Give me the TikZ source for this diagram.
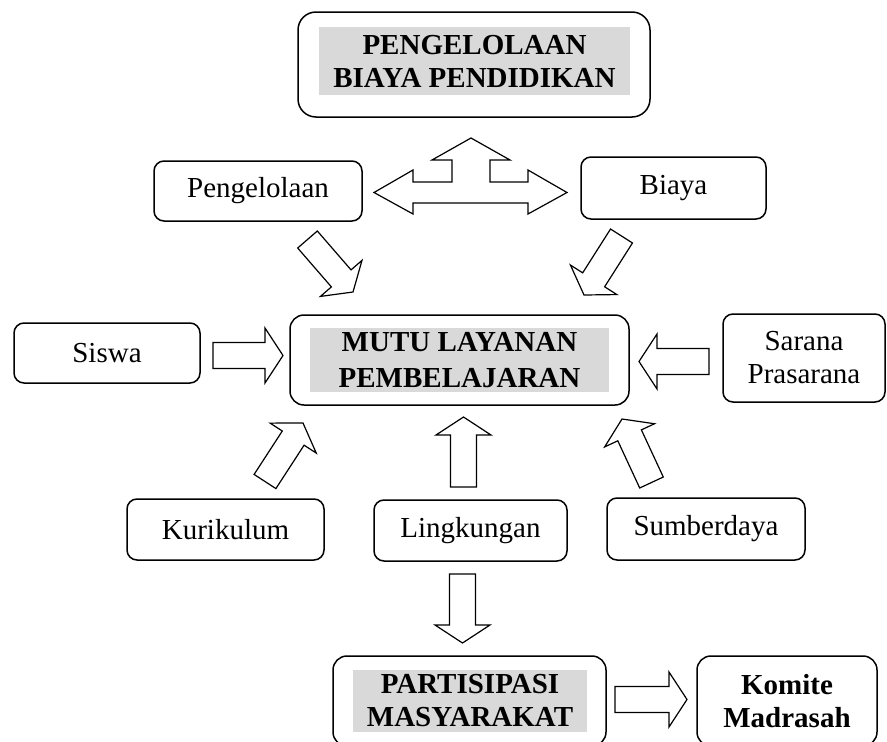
\documentclass[tikz,border=0pt]{standalone}
\usepackage{fontspec}
\setmainfont{Liberation Serif}
\usetikzlibrary{calc}
\definecolor{shadegray}{HTML}{D9D9D9}
\tikzset{
	box/.style={draw, line width=1.5pt, rounded corners=10pt, align=center, inner sep=0pt, font=\fontsize{29}{33}\selectfont},
	bigbox/.style={box, rounded corners=18pt},
	boldbox/.style={box, font=\bfseries\fontsize{29}{33}\selectfont},
	shadetext/.style={fill=shadegray, align=center, inner sep=0pt, font=\bfseries\fontsize{29}{33}\selectfont},
	blockline/.style={draw, fill=white, line width=1.2pt, line join=miter}
}
% hollow block arrow from tail #1 to tip #2
\newcommand{\fatarrow}[2]{%
	\coordinate (fa-base) at ($(#2)!18pt!(#1)$);
	\path[blockline] ($(#1)!13pt!90:(#2)$) -- ($(fa-base)!13pt!-90:(#1)$) -- ($(fa-base)!27.5pt!-90:(#1)$) -- (#2)
		-- ($(fa-base)!27.5pt!90:(#1)$) -- ($(fa-base)!13pt!90:(#1)$) -- ($(#1)!13pt!-90:(#2)$) -- cycle;}
\begin{document}
\begin{tikzpicture}[x=1pt,y=-1pt]
	\path[use as bounding box, fill=white] (0,0) rectangle (887,742);
	% Top box
	\node[bigbox, minimum width=352pt, minimum height=105pt] (biayapend) at (474,64.5) {};
	\node[shadetext, minimum width=311pt, minimum height=68pt] (biayapendtext) at (474.5,61) {PENGELOLAAN\\BIAYA PENDIDIKAN};
	% Second row
	\node[box, minimum width=208pt, minimum height=60pt] (pengelolaan) at (258,191) {Pengelolaan};
	\node[box, minimum width=185pt, minimum height=62pt] (biaya) at (673.5,188) {Biaya};
	% Middle row
	\node[box, minimum width=186pt, minimum height=60pt] (siswa) at (107,353) {Siswa};
	\node[box, rounded corners=14pt, minimum width=339pt, minimum height=90pt] (mutu) at (459.5,360) {};
	\node[shadetext, font=\bfseries\fontsize{29}{36}\selectfont, minimum width=299pt, minimum height=64pt] (mututext) at (459.5,360) {MUTU LAYANAN\\PEMBELAJARAN};
	\node[box, minimum width=162pt, minimum height=88pt] (sarana) at (804,358) {Sarana\\Prasarana};
	% Lower row
	\node[box, minimum width=197pt, minimum height=61pt] (kurikulum) at (225.5,529.5) {Kurikulum};
	\node[box, minimum width=193pt, minimum height=61pt] (lingkungan) at (470.5,530.5) {Lingkungan};
	\node[box, minimum width=198pt, minimum height=62pt] (sumberdaya) at (706,529) {Sumberdaya};
	% Bottom row
	\node[box, rounded corners=14pt, minimum width=273pt, minimum height=90pt] (partisipasi) at (469.5,701) {};
	\node[shadetext, minimum width=234pt, minimum height=62pt] (partisipasitext) at (470,701) {PARTISIPASI\\MASYARAKAT};
	\node[boldbox, rounded corners=14pt, minimum width=180pt, minimum height=90pt] (komite) at (787,701) {Komite\\Madrasah};
	% Three-way arrow under the top box
	\path[blockline] (471,138) -- (510,160) -- (490,160) -- (490,182) -- (528,182) -- (528,170) -- (567,192.5)
		-- (528,214) -- (528,203) -- (413,203) -- (413,214) -- (374,192.5) -- (413,170) -- (413,182)
		-- (452,182) -- (452,160) -- (432,160) -- cycle;
	% Arrows into the middle box
	\fatarrow{307.5,239.5}{353,292}
	\fatarrow{621.5,236}{584,295}
	\fatarrow{213,355.5}{283,355.5}
	\fatarrow{709,361.5}{639,361.5}
	\fatarrow{265,481.5}{303,423}
	\fatarrow{463.5,487}{463.5,417}
	\fatarrow{651.5,482.5}{622,419}
	% Arrows to the bottom row
	\fatarrow{462.5,574}{462.5,643}
	\fatarrow{615,699.5}{687,699.5}
\end{tikzpicture}
\end{document}
